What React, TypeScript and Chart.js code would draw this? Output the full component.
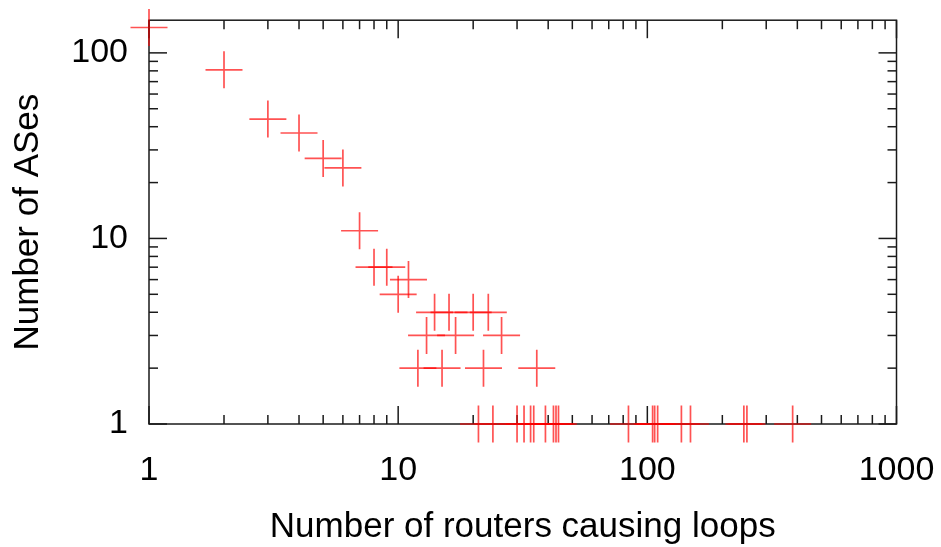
import { useEffect, useRef } from 'react';
import { Chart, registerables } from 'chart.js';

Chart.register(...registerables);

// Number of routers causing loops (x) and number of ASes (y)
const routers = [
  1, 2, 3, 4, 5, 6, 7, 8, 9, 10, 11, 12, 13, 14, 15, 16, 17, 20, 22, 23, 26, 36,
  21, 24, 30, 32, 34, 35, 39, 42, 43, 44, 84, 105, 107, 110, 137, 149, 244, 251, 383,
];
const ases = [
  137, 81, 44, 37, 27, 24, 11, 7, 7, 5, 6, 2, 3, 4, 2, 4, 3, 4, 2, 4, 3, 2,
  1, 1, 1, 1, 1, 1, 1, 1, 1, 1, 1, 1, 1, 1, 1, 1, 1, 1, 1,
];

const xTickValues = [1, 10, 100, 1000];
const yTickValues = [1, 10, 100];
const minorMultipliers = [2, 3, 4, 5, 6, 7, 8, 9];

const xTitle = 'Number of routers causing loops';
const yTitle = 'Number of ASes';

const FONT = "'Liberation Sans', Arial, Helvetica, sans-serif";

const framePlugin = {
  id: 'gnuFrame',
  beforeDatasetsDraw(chart: any) {
    const { ctx, chartArea, scales } = chart;
    const { left, right, top, bottom } = chartArea;
    const xs = scales.x;
    const ys = scales.y;
    ctx.save();
    ctx.strokeStyle = '#1a1a1a';
    ctx.lineWidth = 1.5;
    const major = 18;
    const minor = 9;
    const line = (x1: number, y1: number, x2: number, y2: number) => {
      ctx.beginPath();
      ctx.moveTo(x1, y1);
      ctx.lineTo(x2, y2);
      ctx.stroke();
    };
    xTickValues.forEach((d) => {
      const px = xs.getPixelForValue(d);
      line(px, bottom, px, bottom - major);
      line(px, top, px, top + major);
      if (d < xs.max) {
        minorMultipliers.forEach((m) => {
          const v = d * m;
          if (v >= xs.max) return;
          const p = xs.getPixelForValue(v);
          line(p, bottom, p, bottom - minor);
          line(p, top, p, top + minor);
        });
      }
    });
    yTickValues.forEach((d) => {
      const py = ys.getPixelForValue(d);
      line(left, py, left + major, py);
      line(right, py, right - major, py);
      minorMultipliers.forEach((m) => {
        const v = d * m;
        if (v >= ys.max) return;
        const p = ys.getPixelForValue(v);
        line(left, p, left + minor, p);
        line(right, p, right - minor, p);
      });
    });
    ctx.strokeRect(left, top, right - left, bottom - top);
    ctx.restore();
  },
};

export default function App() {
  const ref = useRef<HTMLCanvasElement | null>(null);

  useEffect(() => {
    if (!ref.current) return;
    const chart = new Chart(ref.current, {
      type: 'scatter',
      data: {
        datasets: [
          {
            data: routers.map((r, i) => ({ x: r, y: ases[i] })),
            pointStyle: 'cross',
            pointRadius: 18.5,
            pointHoverRadius: 18.5,
            pointBorderWidth: 1.7,
            borderColor: 'rgba(255, 0, 0, 0.68)',
            backgroundColor: 'rgba(255, 0, 0, 0.68)',
            clip: false as any,
          },
        ],
      },
      options: {
        responsive: false,
        animation: false,
        events: [],
        layout: { padding: { left: 0, top: 19, right: 44.5, bottom: 0 } },
        plugins: {
          legend: { display: false },
          tooltip: { enabled: false },
        },
        scales: {
          x: {
            type: 'logarithmic',
            min: 1,
            max: 1000,
            border: { display: false },
            grid: { display: false, drawTicks: false },
            afterBuildTicks: (scale: any) => {
              scale.ticks = xTickValues.map((v) => ({ value: v }));
            },
            afterFit: (scale: any) => {
              scale.height = 123;
              scale.paddingLeft = 0;
              scale.paddingRight = 0;
              scale.paddingTop = 0;
              scale.paddingBottom = 0;
            },
            ticks: {
              autoSkip: false,
              maxRotation: 0,
              padding: 26,
              color: '#000',
              font: { family: FONT, size: 34 },
              callback: (v: any) => String(v),
            },
            title: {
              display: true,
              text: xTitle,
              color: '#000',
              font: { family: FONT, size: 35, lineHeight: 1.0 },
              padding: { top: 0, bottom: 2.5 },
            },
          },
          y: {
            type: 'logarithmic',
            min: 1,
            max: 150,
            border: { display: false },
            grid: { display: false, drawTicks: false },
            afterBuildTicks: (scale: any) => {
              scale.ticks = yTickValues.map((v) => ({ value: v }));
            },
            afterFit: (scale: any) => {
              scale.width = 149;
              scale.paddingLeft = 0;
              scale.paddingRight = 0;
              scale.paddingTop = 0;
              scale.paddingBottom = 0;
            },
            ticks: {
              autoSkip: false,
              padding: 21,
              color: '#000',
              font: { family: FONT, size: 34 },
              callback: (v: any) => String(v),
            },
            title: {
              display: true,
              text: yTitle,
              color: '#000',
              font: { family: FONT, size: 35, lineHeight: 1.0 },
              padding: { top: 11, bottom: 0 },
            },
          },
        },
      },
      plugins: [framePlugin],
    });
    return () => chart.destroy();
  }, []);

  return (
    <div style={{ position: 'absolute', left: 0, top: 0, width: 941, height: 547, background: '#fff' }}>
      <canvas ref={ref} width={941} height={547} style={{ display: 'block' }} />
    </div>
  );
}
